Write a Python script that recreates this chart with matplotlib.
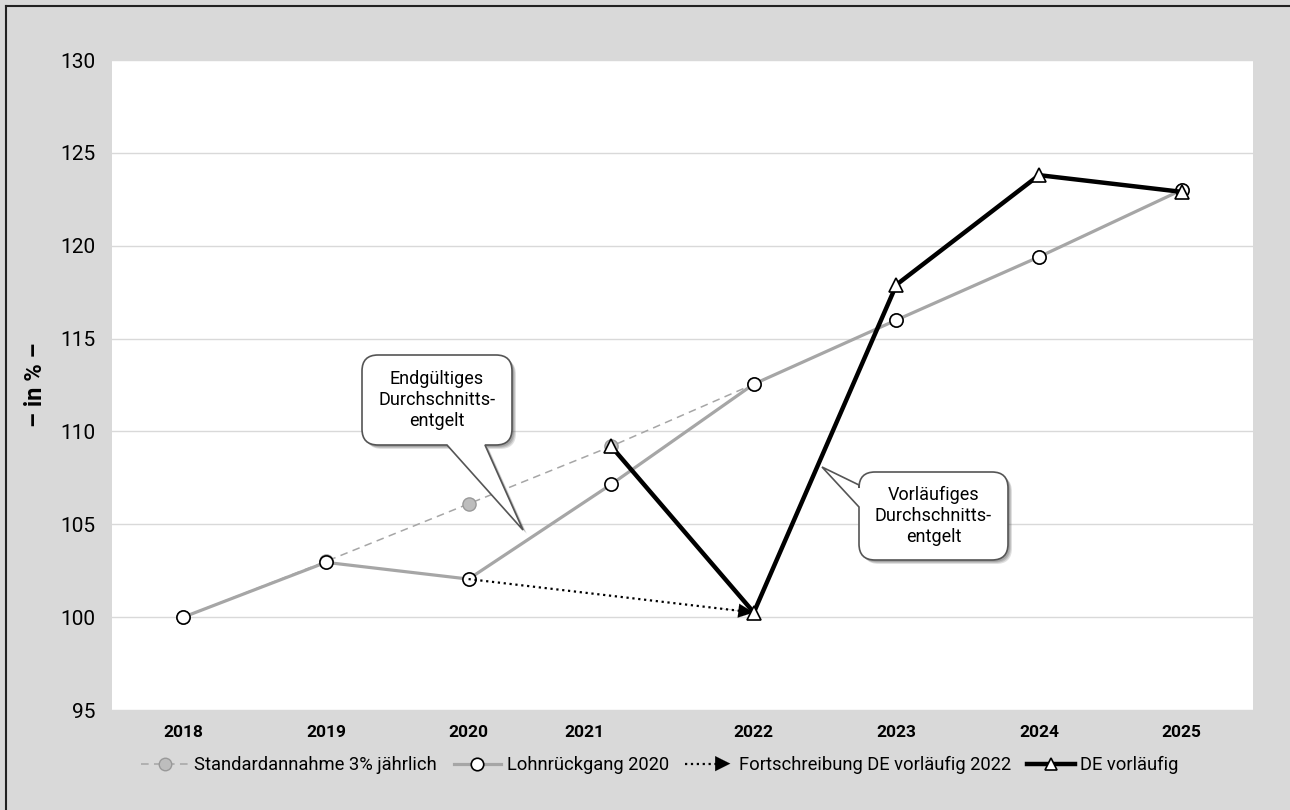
import matplotlib.pyplot as plt
import numpy as np
from matplotlib.lines import Line2D
from matplotlib.patches import PathPatch, FancyArrowPatch
from matplotlib.path import Path
from matplotlib.transforms import IdentityTransform
from matplotlib.legend_handler import HandlerBase

plt.rcParams['font.family'] = ['Roboto', 'DejaVu Sans']

# data
years = [2018, 2019, 2020, 2021, 2022, 2023, 2024, 2025]
standard = [100, 103, 106.1, 109.2, 112.55, 116.0, 119.4, 123.0]
lohn = [100, 102.95, 102.05, 107.15, 112.55, 116.0, 119.4, 123.0]
fort_years = [2020, 2022]
fort = [102.05, 100.25]
de_years = [2021, 2022, 2023, 2024, 2025]
de = [109.2, 100.25, 117.9, 123.8, 122.9]
tick_pos = [2018, 2019, 2020, 2020.81, 2022, 2023, 2024, 2025]
tick_labels = ['2018', '2019', '2020', '2021', '2022', '2023', '2024', '2025']
labels = ['Standardannahme 3% jährlich', 'Lohnrückgang 2020',
          'Fortschreibung DE vorläufig 2022', 'DE vorläufig']

W, H = 1290, 810
bg = '#d9d9d9'
gray = '#a6a6a6'

fig = plt.figure(figsize=(W / 100, H / 100), dpi=100, facecolor=bg)
ax = fig.add_axes([112 / W, 1 - 710 / H, (1253 - 112) / W, (710 - 60) / H])
ax.set_facecolor('white')
for s in ax.spines.values():
    s.set_visible(False)

ax.set_xlim(2017.5, 2025.5)
ax.set_ylim(95, 130)
ax.set_yticks(np.arange(95, 131, 5))
ax.grid(axis='y', color='#d9d9d9', lw=1)
ax.set_axisbelow(True)
ax.tick_params(axis='y', length=0, pad=12, labelsize=15)
ax.set_xticks(tick_pos)
ax.set_xticklabels(tick_labels, fontweight='bold', fontsize=12.5)
ax.tick_params(axis='x', length=0, pad=11)
ax.set_ylabel('– in % –', fontweight='bold', fontsize=17)
ax.yaxis.set_label_coords(-0.057, 0.5)

ax.plot(years, standard, ls=(0, (5, 3.5)), color=gray, lw=1.1, marker='o',
        ms=9.5, mfc='#bdbdbd', mec='#999999', zorder=2)
ax.plot(years, lohn, color=gray, lw=2.3, marker='o', ms=9.5,
        mfc='white', mec='black', mew=1.2, zorder=3)
ax.plot(fort_years, fort, ls=':', color='black', lw=1.6, zorder=4)
head_from = (fort_years[1] - 0.12 * (fort_years[1] - fort_years[0]),
             fort[1] - 0.12 * (fort[1] - fort[0]))
ax.annotate('', xy=(fort_years[1], fort[1]), xytext=head_from,
            arrowprops=dict(arrowstyle='-|>,head_length=1.1,head_width=0.5',
                            color='black', lw=0.1, shrinkA=0, shrinkB=0),
            zorder=4)
ax.plot(de_years, de, color='black', lw=3.2, marker='^', ms=10,
        mfc='white', mec='black', mew=1.2, zorder=5)


def bubble(x0, y0, x1, y1, r, side, b0, b1, tip):
    v = [(x0 + r, y0), (x1 - r, y0), (x1, y0), (x1, y0 + r),
         (x1, y1 - r), (x1, y1), (x1 - r, y1)]
    c = [Path.MOVETO, Path.LINETO, Path.CURVE3, Path.CURVE3,
         Path.LINETO, Path.CURVE3, Path.CURVE3]
    if side == 'bottom':
        v += [(b1, y1), tip, (b0, y1)]
        c += [Path.LINETO] * 3
    v += [(x0 + r, y1), (x0, y1), (x0, y1 - r)]
    c += [Path.LINETO, Path.CURVE3, Path.CURVE3]
    if side == 'left':
        v += [(x0, b1), tip, (x0, b0)]
        c += [Path.LINETO] * 3
    v += [(x0, y0 + r), (x0, y0), (x0 + r, y0), (x0 + r, y0)]
    c += [Path.LINETO, Path.CURVE3, Path.CURVE3, Path.CLOSEPOLY]
    return v, c


def callout(text, *args):
    v, c = bubble(*args)
    for dx, dy, a in [(4, 4, 0.18), (3, 3, 0.22), (2, 2, 0.25)]:
        sv = [(x + dx, H - (y + dy)) for x, y in v]
        fig.add_artist(PathPatch(Path(sv, c), fc='#555555', ec='none',
                                 alpha=a, transform=IdentityTransform()))
    dv = [(x, H - y) for x, y in v]
    fig.add_artist(PathPatch(Path(dv, c), fc='white', ec='#555555', lw=1.2,
                             transform=IdentityTransform()))
    x0, y0, x1, y1 = args[:4]
    fig.text((x0 + x1) / 2 / W, 1 - (y0 + y1) / 2 / H, text, ha='center',
             va='center', fontsize=13, linespacing=1.2)


callout('Endgültiges\nDurchschnitts-\nentgelt',
        362, 355, 512, 445, 16, 'bottom', 447, 485, (523, 530))
callout('Vorläufiges\nDurchschnitts-\nentgelt',
        859, 472, 1008, 560, 16, 'left', 485, 507, (822, 467))


class HandlerArrow(HandlerBase):
    def create_artists(self, legend, orig_handle, xdescent, ydescent,
                       width, height, fontsize, trans):
        y = height / 2 - ydescent
        ln = Line2D([-xdescent, width * 0.8], [y, y], ls=':', color='black',
                    lw=1.6, transform=trans)
        hd = FancyArrowPatch((width * 0.55, y), (width, y),
                             arrowstyle='-|>,head_length=0.9,head_width=0.45',
                             mutation_scale=12, color='black', lw=0.1,
                             transform=trans)
        return [ln, hd]


h1 = Line2D([], [], ls=(0, (5, 3.5)), color=gray, lw=1.1, marker='o', ms=9,
            mfc='#bdbdbd', mec='#999999')
h2 = Line2D([], [], color=gray, lw=2.3, marker='o', ms=9, mfc='white',
            mec='black', mew=1.2)
h3 = object()
h4 = Line2D([], [], color='black', lw=3.2, marker='^', ms=9, mfc='white',
            mec='black', mew=1.2)
fig.legend([h1, h2, h3, h4], labels, handler_map={h3: HandlerArrow()},
           loc='center', bbox_to_anchor=(660 / W, 1 - 765 / H), ncol=4,
           frameon=False, fontsize=13.2, handlelength=2.6, numpoints=1,
           columnspacing=0.9, handletextpad=0.3)

# frame lines at left and top of the image
fig.add_artist(Line2D([6 / W, 6 / W], [0, 1 - 6 / H], color='#222222', lw=1.5))
fig.add_artist(Line2D([6 / W, 1], [1 - 6 / H, 1 - 6 / H], color='#222222', lw=1.5))

fig.savefig('out.png', dpi=100, facecolor=bg)
